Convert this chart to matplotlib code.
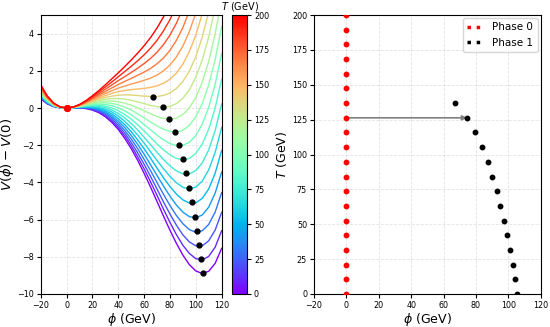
import numpy as np
import matplotlib
matplotlib.use('Agg')
import matplotlib.pyplot as plt
from matplotlib.lines import Line2D
from matplotlib.colors import Normalize
from matplotlib.cm import ScalarMappable

# temperatures (GeV) of the scan
T_vals = [0.0, 10.5, 21.1, 31.6, 42.1, 52.6, 63.2, 73.7, 84.2, 94.7,
          105.3, 115.8, 126.3, 136.8, 147.4, 157.9, 168.4, 178.9, 189.5, 200.0]

# phi grid (GeV) for the potential curves
phi_grid = [-20, -15, -10, -5, 0, 5, 10, 15, 20, 25, 30, 35, 40, 45, 50,
            55, 60, 65, 70, 75, 80, 85, 90, 95, 100, 105, 110, 115, 120]

# V(phi) - V(0), in units of 0.01, one row per temperature (rows stop once off the top)
V_curves = [
    [50, 23, 8, 1, 0, 1, 0, -3, -11, -25, -47, -77, -115, -163, -218, -281, -351, -425, -503, -581, -657, -728, -791, -842, -876, -890, -878, -835, -755],
    [53, 24, 9, 2, 0, 1, 1, -1, -8, -21, -41, -69, -105, -149, -202, -262, -327, -397, -470, -544, -615, -681, -738, -782, -810, -817, -798, -748, -660],
    [55, 26, 9, 2, 0, 1, 2, 0, -5, -16, -35, -60, -94, -135, -185, -241, -302, -368, -436, -505, -570, -630, -682, -720, -741, -741, -714, -656, -561],
    [58, 28, 10, 2, 0, 1, 2, 2, -2, -12, -28, -51, -82, -121, -166, -218, -276, -337, -401, -464, -524, -578, -622, -654, -668, -660, -626, -559, -455],
    [61, 29, 11, 2, 0, 1, 3, 4, 1, -7, -21, -42, -70, -105, -147, -195, -248, -305, -363, -420, -474, -522, -560, -584, -591, -575, -533, -457, -344],
    [65, 31, 12, 2, 0, 1, 4, 6, 4, -2, -14, -32, -57, -89, -127, -171, -219, -270, -323, -375, -422, -463, -494, -511, -510, -486, -435, -350, -228],
    [68, 33, 12, 3, 0, 2, 5, 7, 7, 3, -6, -21, -43, -71, -106, -145, -188, -235, -282, -327, -368, -402, -426, -435, -425, -393, -332, -238, -105],
    [72, 35, 13, 3, 0, 2, 6, 9, 11, 9, 2, -11, -29, -53, -83, -118, -157, -197, -238, -277, -311, -338, -354, -355, -336, -295, -225, -121, 22],
    [75, 37, 14, 3, 0, 2, 7, 12, 15, 15, 10, 1, -14, -35, -60, -90, -123, -158, -193, -225, -252, -271, -279, -271, -244, -193, -113, 1, 155],
    [79, 39, 15, 3, 0, 2, 8, 14, 18, 21, 19, 13, 1, -15, -36, -61, -89, -117, -146, -171, -191, -202, -201, -184, -148, -87, 4, 129, 294],
    [83, 42, 16, 4, 0, 3, 9, 16, 23, 27, 28, 25, 17, 5, -11, -31, -53, -75, -96, -114, -126, -129, -120, -94, -47, 24, 125, 261, 438],
    [87, 44, 17, 4, 0, 3, 10, 18, 27, 33, 37, 38, 34, 26, 15, 1, -15, -31, -46, -56, -60, -54, -35, 0, 57, 139, 251, 399, 588],
    [92, 46, 18, 4, 0, 3, 11, 21, 31, 40, 47, 51, 51, 48, 42, 33, 24, 14, 7, 5, 9, 24, 52, 98, 165, 258, 382, 542, 744],
    [96, 49, 19, 4, 0, 3, 12, 23, 35, 47, 57, 64, 69, 71, 70, 67, 64, 62, 62, 68, 81, 105, 143, 198, 276, 381, 517, 689],
    [101, 51, 21, 5, 0, 4, 13, 26, 40, 54, 67, 79, 88, 94, 99, 102, 106, 111, 119, 133, 155, 188, 236, 303, 392, 508, 657],
    [105, 54, 22, 5, 0, 4, 14, 29, 45, 62, 78, 93, 107, 118, 129, 138, 149, 161, 177, 200, 231, 275, 333, 411, 511, 640],
    [110, 57, 23, 5, 0, 4, 15, 31, 50, 70, 89, 108, 126, 143, 159, 176, 193, 213, 238, 269, 310, 364, 433, 522, 635],
    [116, 60, 24, 6, 0, 5, 17, 34, 55, 77, 101, 124, 147, 169, 191, 214, 239, 267, 300, 341, 392, 456, 536, 637],
    [121, 63, 26, 6, 0, 5, 18, 37, 60, 86, 113, 140, 168, 196, 224, 254, 286, 322, 364, 415, 475, 550, 642],
    [126, 66, 27, 6, 0, 5, 19, 40, 66, 94, 125, 157, 189, 223, 258, 295, 335, 379, 430, 490, 562, 648],
]

# phase 0 (symmetric) minimum at every temperature
phase0_phi = [0.0] * 20
phase0_V = [0.0] * 20

# phase 1 (broken) minima, T = 0 ... 136.8 GeV
phase1_phi = [105.4, 104.1, 102.7, 101.0, 99.2, 97.3, 95.1, 92.8, 90.1, 87.2,
              83.7, 79.6, 74.6, 67.0]
phase1_V = [-8.89, -8.14, -7.39, -6.63, -5.86, -5.07, -4.29, -3.52, -2.73, -2.00,
            -1.29, -0.59, 0.04, 0.57]
phase1_T = T_vals[:14]
i_crit = 12  # transition temperature index (arrow)

fig = plt.figure(figsize=(5.5, 3.27), dpi=100)
ax1 = fig.add_axes([0.074, 0.101, 0.329, 0.853])
cax = fig.add_axes([0.422, 0.101, 0.027, 0.853])
ax2 = fig.add_axes([0.571, 0.101, 0.412, 0.853])

cmap = plt.cm.rainbow
norm = Normalize(vmin=0, vmax=200)
TICK_FS = 5.8
LABEL_FS = 9

# ── left: potential curves ──
for T, row in zip(T_vals, V_curves):
    ax1.plot(phi_grid[:len(row)], np.array(row) / 100.0, color=cmap(norm(T)), lw=1.0)
ax1.plot(phase0_phi, phase0_V, 'o', color='red', ms=3.5, ls='none', zorder=5)
ax1.plot(phase1_phi, phase1_V, 'o', color='black', ms=3.5, ls='none', zorder=5)
ax1.set_xlim(-20, 120)
ax1.set_ylim(-10, 5)
ax1.set_xticks(range(-20, 121, 20))
ax1.set_yticks(range(-10, 5, 2))
ax1.set_xlabel(r'$\phi$ (GeV)', fontsize=LABEL_FS, labelpad=1)
ax1.set_ylabel(r'$V(\phi) - V(0)$', fontsize=LABEL_FS + 0.5, labelpad=1)
ax1.tick_params(labelsize=TICK_FS, length=3, pad=2)
ax1.grid(True, ls='--', lw=0.6, alpha=0.35)

cb = fig.colorbar(ScalarMappable(norm=norm, cmap=cmap), cax=cax)
cb.set_ticks(range(0, 201, 25))
cb.ax.tick_params(labelsize=TICK_FS, length=3, pad=2)
cb.ax.set_title(r'$T$ (GeV)', fontsize=7, pad=4)
cb.outline.set_linewidth(0.8)

# ── right: phase diagram ──
ax2.plot(phase0_phi, T_vals, 'o', color='red', ms=3.2, ls='none', zorder=4)
ax2.plot(phase1_phi, phase1_T, 'o', color='black', ms=3.2, ls='none', zorder=4)
ax2.annotate('', xy=(phase1_phi[i_crit], phase1_T[i_crit]),
             xytext=(phase0_phi[i_crit], T_vals[i_crit]),
             arrowprops=dict(arrowstyle='-|>', color='gray', lw=1.2, mutation_scale=7,
                             shrinkA=0, shrinkB=0), zorder=3)
ax2.set_xlim(-20, 120)
ax2.set_ylim(0, 200)
ax2.set_xticks(range(-20, 121, 20))
ax2.set_yticks(range(0, 201, 25))
ax2.set_xlabel(r'$\phi$ (GeV)', fontsize=LABEL_FS, labelpad=1)
ax2.set_ylabel(r'$T$ (GeV)', fontsize=LABEL_FS, labelpad=2)
ax2.tick_params(labelsize=TICK_FS, length=3, pad=2)
ax2.grid(True, ls='--', lw=0.6, alpha=0.35)
handles = [Line2D([], [], color='red', ls=':', lw=2.5),
           Line2D([], [], color='black', ls=':', lw=2.5)]
ax2.legend(handles, ['Phase 0', 'Phase 1'], loc='upper right', fontsize=7.5,
           handlelength=1.6, borderaxespad=0.3)

fig.savefig('out.png', dpi=100)
